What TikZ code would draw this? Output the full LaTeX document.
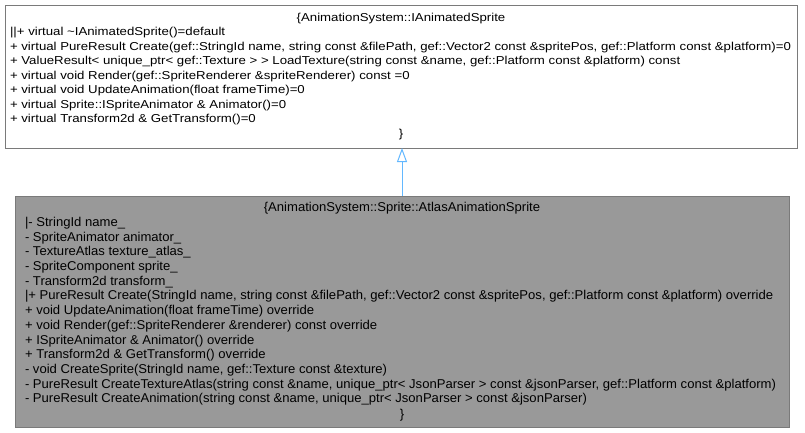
\documentclass[tikz,border=0pt]{standalone}
\usepackage{fontspec}
\usepackage{graphicx}
\usetikzlibrary{arrows.meta}
\setmainfont{Liberation Sans}
\definecolor{edgegray}{HTML}{7A7A7A}
\definecolor{fillgray}{HTML}{999999}
\definecolor{arrowblue}{HTML}{63B8FF}
\newsavebox\mboxA
\newsavebox\mboxB
\makeatletter
\newcommand\getwd[2]{\edef#1{\strip@pt\wd#2}}
\makeatother
\newcommand\fA{\fontsize{11.5}{14}\selectfont}
\newcommand\fB{\fontsize{12.8}{15}\selectfont}
\begin{document}
\sbox\mboxA{\fA + virtual PureResult Create(gef::StringId name, string const \&filePath, gef::Vector2 const \&spritePos, gef::Platform const \&platform)=0}
\sbox\mboxB{\fB - PureResult CreateTextureAtlas(string const \&name, unique\_ptr< JsonParser > const \&jsonParser, gef::Platform const \&platform)}
\getwd\wA\mboxA
\getwd\wB\mboxB
\pgfmathsetmacro\sxA{781/\wA}
\pgfmathsetmacro\sxB{751/\wB}
\newcommand\LA[1]{\scalebox{\sxA}[1]{\fA #1}}
\newcommand\LB[1]{\scalebox{\sxB}[1]{\fB #1}}
\begin{tikzpicture}[x=1pt,y=-1pt,
  classbox/.style={draw=edgegray, line width=1pt, rectangle, inner sep=0pt, outer sep=0pt, anchor=north west},
  txt/.style={inner sep=0pt, outer sep=0pt, text=black},
  inherit/.style={draw=arrowblue, line width=1pt, -{Triangle[open, length=14pt, width=10pt, fill=white]}}]
\useasboundingbox (0,0) rectangle (805,432);
% base class
\node[classbox, fill=white, minimum width=792pt, minimum height=143pt] (base) at (5,5) {};
\node[txt, anchor=base] (basetitle) at (401,21) {\LA{\{AnimationSystem::IAnimatedSprite}};
\foreach \t [count=\i] in {
  {||+ virtual \textasciitilde IAnimatedSprite()=default},
  {+ virtual PureResult Create(gef::StringId name, string const \&filePath, gef::Vector2 const \&spritePos, gef::Platform const \&platform)=0},
  {+ ValueResult< unique\_ptr< gef::Texture > > LoadTexture(string const \&name, gef::Platform const \&platform) const},
  {+ virtual void Render(gef::SpriteRenderer \&spriteRenderer) const =0},
  {+ virtual void UpdateAnimation(float frameTime)=0},
  {+ virtual Sprite::ISpriteAnimator \& Animator()=0},
  {+ virtual Transform2d \& GetTransform()=0}}
  \node[txt, anchor=base west] (basel\i) at (10,{35.5+14.5*(\i-1)}) {\LA{\t}};
\node[txt, anchor=base] (baseclose) at (401,137) {\LA{\}}};
% derived class
\node[classbox, fill=fillgray, minimum width=774pt, minimum height=231pt] (derived) at (15,196) {};
\node[txt, anchor=base] (dertitle) at (402,211.6) {\LB{\{AnimationSystem::Sprite::AtlasAnimationSprite}};
\foreach \t [count=\i] in {
  {|- StringId name\_},
  {- SpriteAnimator animator\_},
  {- TextureAtlas texture\_atlas\_},
  {- SpriteComponent sprite\_},
  {- Transform2d transform\_},
  {|+ PureResult Create(StringId name, string const \&filePath, gef::Vector2 const \&spritePos, gef::Platform const \&platform) override},
  {+ void UpdateAnimation(float frameTime) override},
  {+ void Render(gef::SpriteRenderer \&renderer) const override},
  {+ ISpriteAnimator \& Animator() override},
  {+ Transform2d \& GetTransform() override},
  {- void CreateSprite(StringId name, gef::Texture const \&texture)},
  {- PureResult CreateTextureAtlas(string const \&name, unique\_ptr< JsonParser > const \&jsonParser, gef::Platform const \&platform)},
  {- PureResult CreateAnimation(string const \&name, unique\_ptr< JsonParser > const \&jsonParser)}}
  \node[txt, anchor=base west] (derl\i) at (25,{226.3+14.72*(\i-1)}) {\LB{\t}};
\node[txt, anchor=base] (derclose) at (402,418.5) {\LB{\}}};
% inheritance
\draw[inherit] (derived.north) -- (derived.north |- base.south);
\end{tikzpicture}
\end{document}
